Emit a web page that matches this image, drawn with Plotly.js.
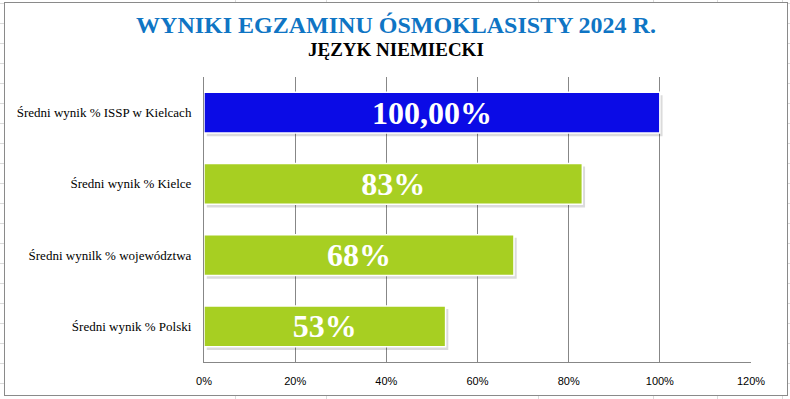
<!DOCTYPE html>
<html>
<head>
<meta charset="utf-8">
<script src="https://cdn.plot.ly/plotly-3.0.1.min.js"></script>
<style>
  html, body { margin:0; padding:0; width:790px; height:399px; overflow:hidden; background:#fff; }
  .hl { position:absolute; left:0; width:790px; height:1px; background:#dadada; }
  .vl { position:absolute; top:0; width:1px; height:399px; background:#dadada; }
  #frame { position:absolute; left:4px; top:2px; width:784px; height:394px; box-sizing:border-box;
           border:1px solid #8a8a8a; background:#fff; }
  #chart { width:782px; height:392px; }
</style>
</head>
<body>
<div id="bg"></div>
<div id="frame"><div id="chart"></div></div>
<script>
// ---- data ----
const categories = [
  "Średni wynik % ISSP w Kielcach",
  "Średni wynik % Kielce",
  "Średni wynik % województwa",
  "Średni wynik % Polski"
];
const tickLabels = [
  "Średni wynik % ISSP w Kielcach",
  "Średni wynik % Kielce",
  "Średni wynilk % województwa",
  "Średni wynik % Polski"
];
const values = [1.00, 0.83, 0.68, 0.53];
const valueLabels = ["100,00%", "83%", "68%", "53%"];
const xTickVals = [0, 0.2, 0.4, 0.6, 0.8, 1.0, 1.2];
const xTickText = ["0%", "20%", "40%", "60%", "80%", "100%", "120%"];

// ---- spreadsheet background decoration ----
const bg = document.getElementById('bg');
for (let y = 3; y < 399; y += 20) { const d = document.createElement('div'); d.className='hl'; d.style.top = y+'px'; bg.appendChild(d); }
[235, 326, 538, 653, 717, 782].forEach(x => { const d = document.createElement('div'); d.className='vl'; d.style.left = x+'px'; bg.appendChild(d); });

const barColors = ["#0b0be6", "#a7cf22", "#a7cf22", "#a7cf22"];
const barWidth = 0.575;

const shadow = {
  type: 'bar', orientation: 'h',
  y: categories, x: values,
  base: 0.006,
  width: barWidth, offset: -barWidth/2 + 0.045,
  marker: { color: 'rgba(0,0,0,0.14)', line: { width: 0 } },
  hoverinfo: 'skip', showlegend: false
};
const bars = {
  type: 'bar', orientation: 'h',
  y: categories, x: values,
  width: barWidth, offset: -barWidth/2,
  marker: { color: barColors, line: { color: '#ffffff', width: 1.5 } },
  text: valueLabels,
  textposition: 'inside', insidetextanchor: 'middle', constraintext: 'none',
  textfont: { family: 'Liberation Serif, Times New Roman, serif', size: 32, color: '#ffffff', weight: 'bold' },
  showlegend: false
};

const layout = {
  width: 782, height: 392,
  margin: { l: 199, r: 36, t: 74, b: 33 },
  paper_bgcolor: 'rgba(0,0,0,0)', plot_bgcolor: 'rgba(0,0,0,0)',
  barmode: 'overlay',
  title: {
    text: '<b>WYNIKI EGZAMINU ÓSMOKLASISTY 2024 R.</b>',
    font: { family: 'Liberation Serif, Times New Roman, serif', size: 24, color: '#0f75c4' },
    x: 0.5, xanchor: 'center', xref: 'container',
    y: 1 - 22/392, yanchor: 'middle', yref: 'container'
  },
  annotations: [{
    text: '<b>JĘZYK NIEMIECKI</b>',
    xref: 'paper', yref: 'paper', x: (391 - 199) / 547, y: 1 + (74 - 47) / 285,
    xanchor: 'center', yanchor: 'middle', showarrow: false,
    font: { family: 'Liberation Serif, Times New Roman, serif', size: 19, color: '#000000' }
  }],
  xaxis: {
    range: [0, 1.2], fixedrange: true,
    tickvals: xTickVals, ticktext: xTickText,
    showgrid: true, gridcolor: '#878787', gridwidth: 1,
    showline: true, linecolor: '#878787', linewidth: 1,
    zeroline: false, ticks: '', ticklabelstandoff: 9,
    tickfont: { family: 'Liberation Sans, Arial, sans-serif', size: 11, color: '#000' }
  },
  yaxis: {
    type: 'category', autorange: false, range: [3.5, -0.5],
    tickvals: categories, ticktext: tickLabels,
    showgrid: false, showline: true, linecolor: '#878787', linewidth: 1,
    zeroline: false, ticks: '', ticklabelstandoff: 9,
    tickfont: { family: 'Liberation Serif, Times New Roman, serif', size: 13, color: '#000' }
  }
};

Plotly.newPlot('chart', [shadow, bars], layout, { staticPlot: true, displayModeBar: false });
</script>
</body>
</html>
